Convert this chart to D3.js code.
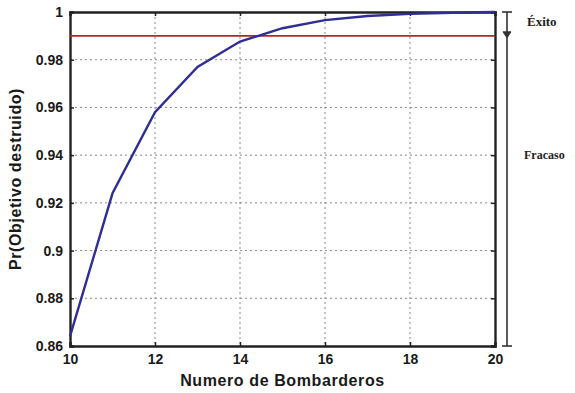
<!DOCTYPE html>
<html>
<head>
<meta charset="utf-8">
<script src="https://cdn.jsdelivr.net/npm/d3@7"></script>
<style>
  body { margin: 0; background: #fff; }
</style>
</head>
<body>
<script>
// bombers vs probability the target gets destroyed
let bombers = [10, 11, 12, 13, 14, 15, 16, 17, 18, 19, 20];
let probDestroyed = [0.864, 0.924, 0.958, 0.977, 0.9876, 0.9932, 0.9966, 0.9983, 0.9992, 0.9997, 1.0];
let threshold = 0.99;
let xTicks = [10, 12, 14, 16, 18, 20];
let yTicks = [0.86, 0.88, 0.9, 0.92, 0.94, 0.96, 0.98, 1];
let sideLabels = ['Éxito', 'Fracaso'];

let width = 575, height = 393;
let margin = { left: 70, right: 80, top: 12, bottom: 47 };
let w = width - margin.left - margin.right;
let h = height - margin.top - margin.bottom;
let sans = '"Liberation Sans", Arial, sans-serif';
let serif = '"Liberation Serif", "Times New Roman", serif';

let x = d3.scaleLinear().domain([10, 20]).range([0, w]);
let y = d3.scaleLinear().domain([0.86, 1]).range([h, 0]);

let svg = d3.select('body').append('svg')
  .attr('width', width).attr('height', height);

let g = svg.append('g')
  .attr('transform', 'translate(' + margin.left + ',' + margin.top + ')');

// dotted grid
g.append('g').selectAll('line').data(yTicks.slice(1, -1)).join('line')
  .attr('x1', 0).attr('x2', w)
  .attr('y1', d => y(d)).attr('y2', d => y(d))
  .attr('stroke', '#888').attr('stroke-width', 1).attr('stroke-dasharray', '2,3');
g.append('g').selectAll('line').data(xTicks.slice(1, -1)).join('line')
  .attr('y1', 0).attr('y2', h)
  .attr('x1', d => x(d)).attr('x2', d => x(d))
  .attr('stroke', '#888').attr('stroke-width', 1).attr('stroke-dasharray', '2,3');

// axes (ticks point inside)
let yAxis = d3.axisLeft(y).tickValues(yTicks).tickFormat(d3.format('~g'))
  .tickSize(-4).tickPadding(7);
let xAxis = d3.axisBottom(x).tickValues(xTicks).tickFormat(d3.format('d'))
  .tickSize(-4).tickPadding(8);

g.append('g').attr('class', 'axis y').call(yAxis);
g.append('g').attr('class', 'axis x')
  .attr('transform', 'translate(0,' + h + ')').call(xAxis);
g.append('g').attr('transform', 'translate(' + w + ',0)')
  .call(d3.axisRight(y).tickValues(yTicks).tickSize(-4).tickFormat(''));
g.append('g')
  .call(d3.axisTop(x).tickValues(xTicks).tickSize(-4).tickFormat(''));

g.selectAll('.domain').attr('stroke', '#222').attr('stroke-width', 2.4);
g.selectAll('.tick line').attr('stroke', '#222').attr('stroke-width', 1.5);
g.selectAll('.axis text')
  .attr('font-family', sans)
  .attr('font-size', 14).attr('font-weight', 'bold').attr('fill', '#1a1a1a');

// threshold line
g.append('line')
  .attr('x1', 0).attr('x2', w)
  .attr('y1', y(threshold)).attr('y2', y(threshold))
  .attr('stroke', '#b02828').attr('stroke-width', 1.6);

// curve
let line = d3.line()
  .x((d, i) => x(bombers[i]))
  .y(d => y(d));
g.append('path')
  .attr('d', line(probDestroyed))
  .attr('fill', 'none')
  .attr('stroke', '#2e2e96')
  .attr('stroke-width', 2.4);

// right side bracket
let bx = w + 12;
let side = g.append('g').attr('stroke', '#333').attr('stroke-width', 1.6);
side.append('line').attr('x1', bx).attr('x2', bx).attr('y1', y(1)).attr('y2', y(0.86));
side.append('line').attr('x1', bx - 5).attr('x2', bx + 5).attr('y1', y(1)).attr('y2', y(1));
side.append('line').attr('x1', bx - 5).attr('x2', bx + 5).attr('y1', y(0.86)).attr('y2', y(0.86));
side.append('path')
  .attr('d', 'M' + (bx - 4) + ',' + (y(threshold) - 4) + 'L' + (bx + 4) + ',' + (y(threshold) - 4) + 'L' + bx + ',' + (y(threshold) + 2) + 'Z')
  .attr('fill', '#333').attr('stroke-width', 1);

g.append('text').text(sideLabels[0])
  .attr('x', bx + 20).attr('y', y(0.996) + 4)
  .attr('font-family', serif)
  .attr('font-weight', 'bold').attr('font-size', 13).attr('fill', '#222');
g.append('text').text(sideLabels[1])
  .attr('x', bx + 17).attr('y', y(0.94) + 4)
  .attr('font-family', serif)
  .attr('font-weight', 'bold').attr('font-size', 12).attr('fill', '#222');

// axis titles
svg.append('text').text('Numero de Bombarderos')
  .attr('x', margin.left + w / 2).attr('y', height - 7)
  .attr('text-anchor', 'middle')
  .attr('font-family', sans).style('letter-spacing', '0.6px')
  .attr('font-size', 16).attr('font-weight', 'bold').attr('fill', '#1a1a1a');
svg.append('text').text('Pr(Objetivo destruido)')
  .attr('transform', 'translate(21,' + (margin.top + h / 2) + ') rotate(-90)')
  .attr('text-anchor', 'middle')
  .attr('font-family', sans).style('letter-spacing', '0.6px')
  .attr('font-size', 16).attr('font-weight', 'bold').attr('fill', '#1a1a1a');
</script>
</body>
</html>
